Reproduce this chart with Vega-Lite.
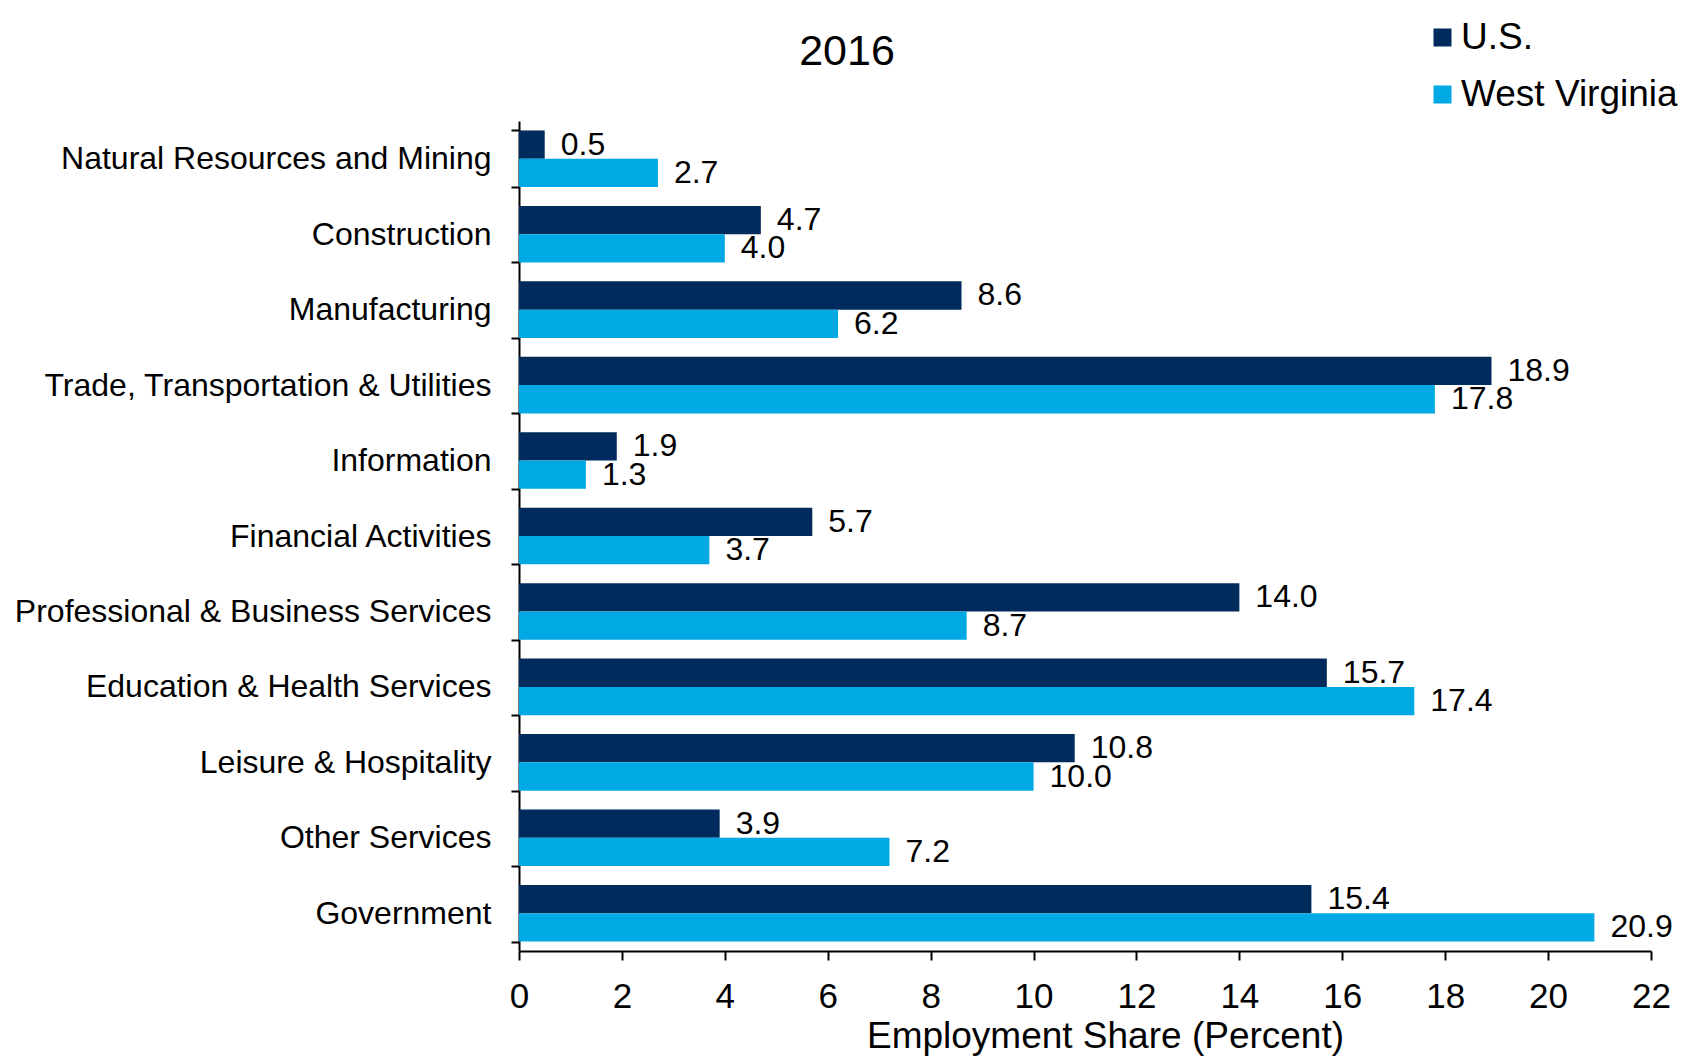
{
  "$schema": "https://vega.github.io/schema/vega-lite/v6.json",
  "width": 1132,
  "height": 830,
  "autosize": "none",
  "padding": {"left": 519, "top": 121, "right": 41, "bottom": 108},
  "background": "white",
  "title": {"text": "2016", "anchor": "middle", "frame": "group", "dx": -238, "dy": 55, "fontSize": 43, "fontWeight": "normal", "font": "Liberation Sans", "color": "black", "offset": 0},
  "config": {
    "font": "Liberation Sans",
    "view": {"stroke": null},
    "axis": {"grid": false, "domainColor": "black", "tickColor": "black", "labelColor": "black", "titleColor": "black", "domainWidth": 2, "tickWidth": 2}
  },
  "data": {"values": [
    {"industry": "Natural Resources and Mining", "region": "U.S.", "value": 0.5},
    {"industry": "Natural Resources and Mining", "region": "West Virginia", "value": 2.7},
    {"industry": "Construction", "region": "U.S.", "value": 4.7},
    {"industry": "Construction", "region": "West Virginia", "value": 4.0},
    {"industry": "Manufacturing", "region": "U.S.", "value": 8.6},
    {"industry": "Manufacturing", "region": "West Virginia", "value": 6.2},
    {"industry": "Trade, Transportation & Utilities", "region": "U.S.", "value": 18.9},
    {"industry": "Trade, Transportation & Utilities", "region": "West Virginia", "value": 17.8},
    {"industry": "Information", "region": "U.S.", "value": 1.9},
    {"industry": "Information", "region": "West Virginia", "value": 1.3},
    {"industry": "Financial Activities", "region": "U.S.", "value": 5.7},
    {"industry": "Financial Activities", "region": "West Virginia", "value": 3.7},
    {"industry": "Professional & Business Services", "region": "U.S.", "value": 14.0},
    {"industry": "Professional & Business Services", "region": "West Virginia", "value": 8.7},
    {"industry": "Education & Health Services", "region": "U.S.", "value": 15.7},
    {"industry": "Education & Health Services", "region": "West Virginia", "value": 17.4},
    {"industry": "Leisure & Hospitality", "region": "U.S.", "value": 10.8},
    {"industry": "Leisure & Hospitality", "region": "West Virginia", "value": 10.0},
    {"industry": "Other Services", "region": "U.S.", "value": 3.9},
    {"industry": "Other Services", "region": "West Virginia", "value": 7.2},
    {"industry": "Government", "region": "U.S.", "value": 15.4},
    {"industry": "Government", "region": "West Virginia", "value": 20.9}
  ]},
  "encoding": {
    "y": {
      "field": "industry", "type": "nominal", "sort": null,
      "scale": {"paddingInner": 0.25, "paddingOuter": 0.125},
      "axis": {"title": null, "tickBand": "extent", "tickSize": 8, "labelPadding": 20, "labelFontSize": 32, "labelLimit": 600}
    },
    "yOffset": {"field": "region", "type": "nominal", "sort": ["U.S.", "West Virginia"]},
    "x": {
      "field": "value", "type": "quantitative",
      "scale": {"domain": [0, 22], "nice": false, "zero": true},
      "axis": {"values": [0, 2, 4, 6, 8, 10, 12, 14, 16, 18, 20, 22], "tickSize": 9, "labelPadding": 19, "labelFontSize": 35, "title": "Employment Share (Percent)", "titleFontSize": 37, "titleFontWeight": "normal", "titlePadding": 4, "titleX": 586, "titleAlign": "center", "labelFlush": false}
    }
  },
  "layer": [
    {
      "mark": {"type": "bar"},
      "encoding": {
        "color": {
          "field": "region", "type": "nominal",
          "scale": {"domain": ["U.S.", "West Virginia"], "range": ["#002B5C", "#00A9E4"]},
          "legend": {"title": null, "orient": "none", "legendX": 905, "legendY": -102, "symbolType": "square", "symbolSize": 324, "symbolStrokeWidth": 0, "labelFontSize": 37, "labelColor": "black", "rowPadding": 19, "labelOffset": 0, "labelLimit": 0}
        }
      }
    },
    {
      "mark": {"type": "text", "align": "left", "baseline": "middle", "dx": 16, "fontSize": 32, "color": "black"},
      "encoding": {
        "text": {"field": "value", "type": "quantitative", "format": ".1f"}
      }
    }
  ]
}
